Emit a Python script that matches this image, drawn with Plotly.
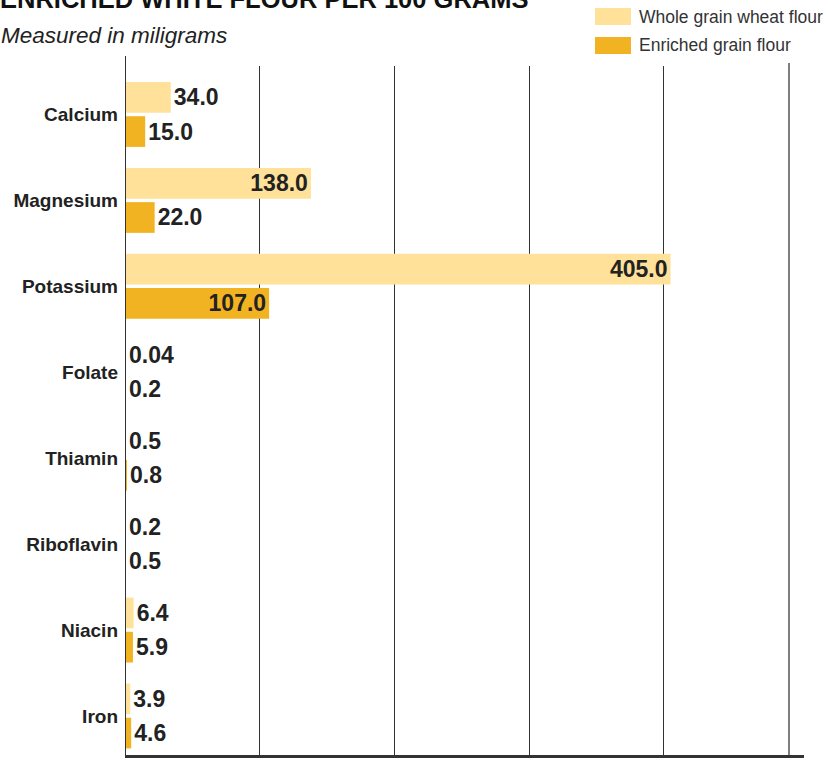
import plotly.graph_objects as go

# ---- data ----
categories = ["Calcium", "Magnesium", "Potassium", "Folate", "Thiamin", "Riboflavin", "Niacin", "Iron"]
whole_grain = [34.0, 138.0, 405.0, 0.04, 0.5, 0.2, 6.4, 3.9]
enriched = [15.0, 22.0, 107.0, 0.2, 0.8, 0.5, 5.9, 4.6]
series_names = ["Whole grain wheat flour", "Enriched grain flour"]
grid_vals = [100, 200, 300, 400]
grid_text = ["", "200", "", ""]
title_text = "ENRICHED WHITE FLOUR PER 100 GRAMS*"
subtitle_text = "Measured in miligrams"

# ---- style ----
colors = ["#FFE19A", "#F1B321"]
W, H = 828, 764
L, R, T, B = 125, 804, 66, 755
FONT = "Liberation Sans, Arial, sans-serif"
INK = "#222222"


def px(x):
    return (x - L) / (R - L)


def py(y):
    return (B - y) / (B - T)


fig = go.Figure()
for name, vals, col in zip(series_names, [whole_grain, enriched], colors):
    fig.add_trace(go.Bar(
        y=categories, x=vals, orientation="h", name=name,
        marker=dict(color=col, line=dict(width=0)),
        text=[str(v) for v in vals],
        textposition=["inside" if v >= 100 else "outside" for v in vals],
        insidetextanchor="end",
        textfont=dict(family=FONT, size=23, color=INK, weight="bold"),
        constraintext="none", cliponaxis=False,
        showlegend=False, hoverinfo="skip",
    ))

shapes = [
    # left axis line extending above plot
    dict(type="line", xref="x", yref="paper", x0=0, x1=0, y0=0, y1=py(56),
         line=dict(color="#333333", width=2)),
    # right-most vertical rule
    dict(type="line", xref="paper", yref="paper", x0=px(789), x1=px(789), y0=0, y1=py(63),
         line=dict(color="#555555", width=1.5)),
]
annotations = []
leg_y = [(8, 25), (37, 54)]
for (y0, y1), col, name in zip(leg_y, colors, series_names):
    shapes.append(dict(type="rect", xref="paper", yref="paper",
                       x0=px(595), x1=px(631), y0=py(y1), y1=py(y0),
                       fillcolor=col, line=dict(width=0)))
    annotations.append(dict(xref="paper", yref="paper", x=px(637), y=py((y0 + y1) / 2),
                            xanchor="left", yanchor="middle", showarrow=False, text=name,
                            font=dict(family=FONT, size=17.5, color="#333333")))

annotations.append(dict(xref="paper", yref="paper", x=px(-1), y=py(36),
                        xanchor="left", yanchor="middle", showarrow=False,
                        text="<i>" + subtitle_text + "</i>",
                        font=dict(family=FONT, size=22.5, color=INK)))
annotations.append(dict(xref="paper", yref="paper", x=px(-2), y=py(-0.5),
                        xanchor="left", yanchor="middle", showarrow=False,
                        text="<b>" + title_text + "</b>",
                        font=dict(family=FONT, size=25.5, color="#111111")))

fig.update_layout(
    width=W, height=H,
    margin=dict(l=L, r=W - R, t=T, b=H - B, pad=0, autoexpand=False),
    paper_bgcolor="white", plot_bgcolor="white",
    barmode="group", bargap=0.204, bargroupgap=0.102,
    xaxis=dict(range=[0, (R - L) / 1.347], tickvals=grid_vals, ticktext=grid_text,
               showgrid=True, gridcolor="#333333", gridwidth=1, zeroline=False,
               showline=True, linecolor="#333333", linewidth=2.5, ticks="",
               tickfont=dict(family=FONT, size=16, color=INK), automargin=False,
               fixedrange=True),
    yaxis=dict(type="category", range=[7.454, -0.564], showgrid=False, zeroline=False,
               showline=False, ticks="", ticklabelstandoff=6,
               tickfont=dict(family=FONT, size=19, color=INK, weight="bold"),
               automargin=False, fixedrange=True),
    shapes=shapes, annotations=annotations,
)

fig.write_html("out.html")
